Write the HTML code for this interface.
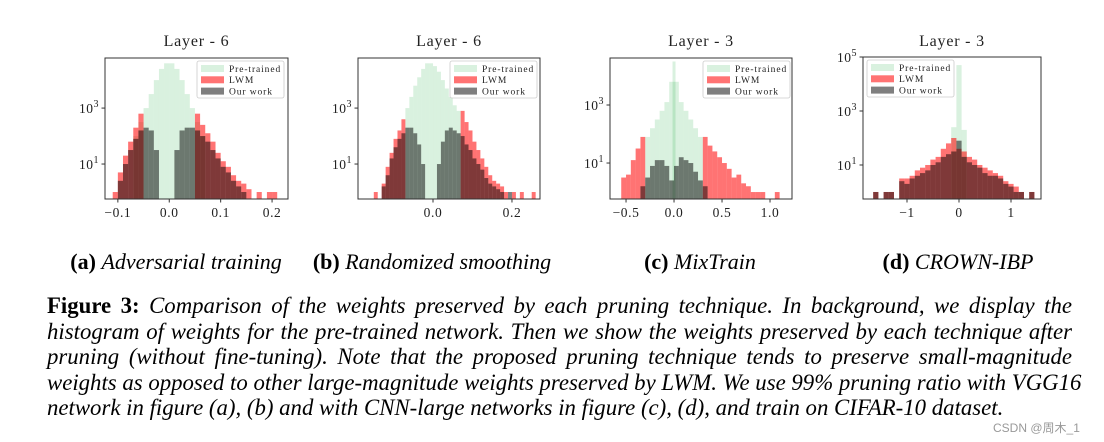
<!DOCTYPE html>
<html><head><meta charset="utf-8">
<style>
body{margin:0;background:#fff;width:1104px;height:442px;overflow:hidden;position:relative;font-family:"Liberation Serif",serif;}
svg{position:absolute;left:0;top:0;}
.cap{position:absolute;top:249px;font-size:22px;white-space:nowrap;transform:translateX(-50%);}
.cap i{font-style:italic}
.ln{position:absolute;left:47px;width:1025px;font-size:22.8px;font-style:italic;white-space:nowrap;text-align:justify;text-align-last:justify;line-height:24px;}
.ln.last{text-align-last:left;}
.wm{position:absolute;left:993px;top:419px;font-family:"Liberation Sans","Noto Sans CJK SC",sans-serif;font-size:12px;color:#999;}
</style></head><body>
<svg id="fig" width="1104" height="442"></svg>

<div class="cap" style="left:176px"><b>(a)</b> <i>Adversarial training</i></div>
<div class="cap" style="left:432px"><b>(b)</b> <i>Randomized smoothing</i></div>
<div class="cap" style="left:700px"><b>(c)</b> <i>MixTrain</i></div>
<div class="cap" style="left:958px"><b>(d)</b> <i>CROWN-IBP</i></div>

<div class="ln" style="top:294px"><b style="font-style:normal">Figure 3:</b> Comparison of the weights preserved by each pruning technique. In background, we display the</div>
<div class="ln" style="top:320px">histogram of weights for the pre-trained network. Then we show the weights preserved by each technique after</div>
<div class="ln" style="top:345px">pruning (without fine-tuning). Note that the proposed pruning technique tends to preserve small-magnitude</div>
<div class="ln" style="top:371px">weights as opposed to other large-magnitude weights preserved by LWM. We use 99% pruning ratio with VGG16</div>
<div class="ln last" style="top:396px">network in figure (a), (b) and with CNN-large networks in figure (c), (d), and train on CIFAR-10 dataset.</div>
<div class="wm">CSDN @周木_1</div>

<script>
// ---- Chart A data (log10 counts per bin) ----
const aBinStart = -0.11, aBinWidth = 0.01;
const aPre  = [null,null,null,null,2.0,2.5,3.0,3.5,4.0,4.4,4.6,4.6,4.4,4.0,3.5,3.0,2.5,2.0,null,null,null,null,null,null,null,null,null,null,null,null,null,null,null];
const aLwm  = [0,0.7,1.3,1.8,2.3,2.8,null,null,null,null,null,null,null,null,null,null,2.8,2.4,2.1,1.8,1.4,1.1,0.9,0.6,0.4,0.3,0.1,null,0,null,0,0,null];
const aOurs = [null,0.4,1.0,1.5,1.9,2.2,2.3,2.2,1.5,null,null,null,1.5,2.2,2.3,2.3,2.2,2.0,1.8,1.5,1.2,0.9,0.7,0.4,0.2,0,null,null,null,null,null,null,null];
const aXTicks = [-0.1,0,0.1,0.2], aXLabels = ["\u22120.1","0.0","0.1","0.2"];
const aYTicks = [1,3];
// ---- Chart B ----
const bBinStart = -0.15, bBinWidth = 0.01;
const bPre  = [null,null,null,null,null,null,null,null,3.0,3.4,3.8,4.1,4.4,4.6,4.6,4.5,4.3,4.0,3.7,3.4,3.1,2.9,null,null,null,null,null,null,null,null,null,null,null,null,null,null,null,null,null,null,null];
const bLwm  = [0,null,0.3,0.9,1.4,1.9,2.2,2.6,null,null,null,null,null,null,null,null,null,null,null,null,null,null,2.9,2.5,2.2,1.8,1.5,1.2,0.9,0.6,0.4,0.3,0.2,0,null,0,null,0,null,null,0];
const bOurs = [null,null,0.2,0.6,1.2,1.6,1.9,2.1,2.3,2.3,2.1,1.7,1.0,null,null,null,1.0,1.8,2.2,2.3,2.2,2.1,2.0,1.7,1.5,1.2,1.0,0.8,0.5,0.3,0.2,0.1,0,null,0,null,null,null,null,null,null];
const bXTicks = [0,0.2], bXLabels = ["0.0","0.2"];
const bYTicks = [1,3];
// ---- Chart C ----
const cBinStart = -0.6, cBinWidth = 0.05;
const cPre  = [null,null,null,null,null,null,1.9,2.2,2.5,2.8,3.1,3.8,3.8,3.1,2.8,2.5,2.2,1.9,null,null,null,null,null,null,null,null,null,null,null,null,null,null,null,null,null];
const cLwm  = [null,0.5,0.6,1.1,1.5,1.9,null,null,null,null,null,null,null,null,null,null,null,null,1.9,1.6,1.4,1.2,1.0,0.8,0.5,0.6,0.3,0.2,0,0,0,null,null,0,null];
const cOurs = [null,null,null,null,null,0.2,0.5,0.9,1.1,1.1,0.9,0.4,0.9,1.2,1.1,1.0,0.7,0.4,0.2,null,null,null,null,null,null,null,null,null,null,null,null,null,null,null,null];
const cSpikeAt = [0], cSpikeVal = [4.5];
const cXTicks = [-0.5,0,0.5,1.0], cXLabels = ["\u22120.5","0.0","0.5","1.0"];
const cYTicks = [1,3];
// ---- Chart D ----
const dBinStart = -1.75, dBinWidth = 0.1;
const dPre  = [null,null,null,null,null,null,null,null,null,null,null,null,null,null,null,null,2.4,4.7,2.3,null,null,null,null,null,null,null,null,null,null,null,null,null,null,null];
const dLwm  = [null,0,null,0,0,null,0.5,0.5,0.6,0.8,0.9,1.0,1.2,1.3,1.6,1.8,2.0,1.6,1.5,1.3,1.2,1.0,0.9,0.8,0.7,0.6,0.4,0.3,0.2,0,null,0,null,null];
const dOurs = [null,0,null,0,0,null,0.4,0.3,0.5,0.6,0.7,0.8,1.0,1.1,1.3,1.4,1.5,1.9,1.3,1.1,1.0,0.9,0.7,0.6,0.6,0.5,0.3,0.2,0,0,null,0,null,null];
const dXTicks = [-1,0,1], dXLabels = ["\u22121","0","1"];
const dYTicks = [1,3,5];

const NS = "http://www.w3.org/2000/svg";
const svg = document.getElementById('fig');
const FF = 'Liberation Serif, serif';
function el(tag, attrs, parent){const e=document.createElementNS(NS,tag);for(const k in attrs)e.setAttribute(k,attrs[k]);(parent||svg).appendChild(e);return e;}

function chart(id, box, xdom, ydom, binStart, binW, pre, lwm, ours, xt, xl, yt, title, legX, spikeAt, spikeVal){
  const g = el('g',{});
  
  
  const X = v => box.x0 + (v - xdom[0])/(xdom[1]-xdom[0])*(box.x1-box.x0);
  const Y = v => box.y1 - (v - ydom[0])/(ydom[1]-ydom[0])*(box.y1-box.y0);
  const cp = el('clipPath',{id:'clip'+id},g);
  el('rect',{x:box.x0,y:box.y0,width:box.x1-box.x0,height:box.y1-box.y0},cp);
  const series = [[pre,'rgba(0,160,40,0.15)','pre-trained'],[lwm,'rgba(255,0,0,0.55)','lwm'],[ours,'rgba(0,0,0,0.5)','our-work']];
  series.forEach(([arr,col,nm],si)=>{
    const sg = el('g',{'clip-path':'url(#clip'+id+')'},g);
    
    
    arr.forEach((v,i)=>{
      if(v===null) return;
      const xa = X(binStart + i*binW), xb = X(binStart + (i+1)*binW);
      const r = el('rect',{x:xa,y:Y(v),width:Math.max(0.5,xb-xa),height:box.y1-Y(v),fill:col},sg);
      
      
    });
    if(si===0 && spikeAt){
      spikeAt.forEach((s,k)=>{
        const r = el('rect',{x:X(s)-1.5,y:Y(spikeVal[k]),width:3,height:box.y1-Y(spikeVal[k]),fill:col},sg);
        
        
      });
    }
  });
  const fr = el('rect',{x:box.x0,y:box.y0,width:box.x1-box.x0,height:box.y1-box.y0,fill:'none',stroke:'#333','stroke-width':1},g);
  
  
  xt.forEach((v,i)=>{
    el('line',{x1:X(v),x2:X(v),y1:box.y1,y2:box.y1+3.5,stroke:'#333'},g);
    const t = el('text',{x:X(v),y:box.y1+18,'font-size':13.5,'letter-spacing':0.6,'text-anchor':'middle','font-family':FF,fill:'#222'},g);
    t.textContent = xl[i];
    
    
  });
  yt.forEach(v=>{
    el('line',{x1:box.x0-3.5,x2:box.x0,y1:Y(v),y2:Y(v),stroke:'#333'},g);
    const t = el('text',{x:box.x0-6,y:Y(v)+5,'font-size':13.5,'letter-spacing':0.5,'text-anchor':'end','font-family':FF,fill:'#222'},g);
    t.appendChild(document.createTextNode('10'));
    const s = el('tspan',{dy:-6,'font-size':10},t); s.textContent = String(v);
    
    
  });
  const tt = el('text',{x:(box.x0+box.x1)/2,y:46,'font-size':16,'letter-spacing':0.8,'text-anchor':'middle','font-family':FF,fill:'#222'},g);
  tt.textContent = title;
  
  
  const lg = el('g',{},g);
  
  
  const ly = box.y0+3;
  el('rect',{x:legX,y:ly,width:87,height:37,fill:'#fff','fill-opacity':0.85,stroke:'#ccc','stroke-width':0.8,rx:2},lg);
  [['Pre-trained','rgba(0,160,40,0.15)'],['LWM','rgba(255,0,0,0.55)'],['Our work','rgba(0,0,0,0.5)']].forEach(([n,c],i)=>{
    const e = el('g',{},lg);
    
    
    el('rect',{x:legX+4,y:ly+4+i*11.3,width:23,height:7,fill:c},e);
    const t = el('text',{x:legX+32,y:ly+10.8+i*11.3,'font-size':9.5,'font-family':FF,fill:'#222','letter-spacing':0.9},e);
    t.textContent = n;
  });
}
chart('a',{x0:105,x1:288,y0:58,y1:199},[-0.125,0.231],[-0.25,4.79],aBinStart,aBinWidth,aPre,aLwm,aOurs,aXTicks,aXLabels,aYTicks,'Layer - 6',197);
chart('b',{x0:358,x1:540,y0:58,y1:199},[-0.19,0.271],[-0.25,4.79],bBinStart,bBinWidth,bPre,bLwm,bOurs,bXTicks,bXLabels,bYTicks,'Layer - 6',450);
chart('c',{x0:610,x1:792,y0:58,y1:199},[-0.667,1.229],[-0.24,4.62],cBinStart,cBinWidth,cPre,cLwm,cOurs,cXTicks,cXLabels,cYTicks,'Layer - 3',703,cSpikeAt,cSpikeVal);
chart('d',{x0:863,x1:1041,y0:57,y1:199},[-1.846,1.577],[-0.26,5.0],dBinStart,dBinWidth,dPre,dLwm,dOurs,dXTicks,dXLabels,dYTicks,'Layer - 3',867);
</script>
</body></html>
